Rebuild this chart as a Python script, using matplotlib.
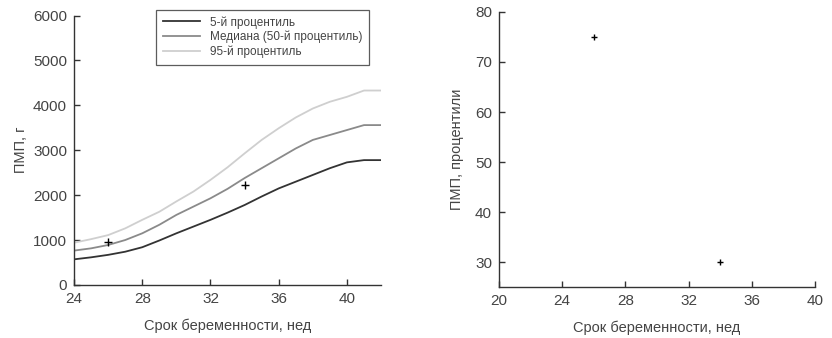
import matplotlib
matplotlib.use("Agg")
import matplotlib.pyplot as plt

plt.rcParams['font.family'] = ['Liberation Sans', 'DejaVu Sans']

weeks = [24, 25, 26, 27, 28, 29, 30, 31, 32, 33, 34, 35, 36, 37, 38, 39, 40, 41, 42]
p5 = [570, 615, 670, 740, 840, 990, 1150, 1300, 1450, 1610, 1780, 1970, 2150, 2300,
      2450, 2600, 2730, 2780, 2780]
p50 = [765, 815, 890, 1000, 1150, 1340, 1560, 1745, 1930, 2140, 2380, 2600, 2820, 3040,
       3230, 3340, 3450, 3560, 3560]
p95 = [940, 1020, 1110, 1260, 1450, 1630, 1860, 2080, 2340, 2620, 2930, 3230, 3490, 3730,
       3930, 4080, 4190, 4330, 4330]
obs_weeks = [26, 34]
obs_weight = [960, 2220]
obs_pct = [75, 30]

labels = ['5-й процентиль', 'Медиана (50-й процентиль)', '95-й процентиль']
colors = ['#333333', '#8a8a8a', '#cfcfcf']
txt = '#444444'

fig = plt.figure(figsize=(8.32, 3.38), dpi=100)
ax1 = fig.add_axes([0.089, 0.157, 0.369, 0.797])
ax2 = fig.add_axes([0.5998, 0.150, 0.3798, 0.815])

for vals, lab, c in zip([p5, p50, p95], labels, colors):
    ax1.plot(weeks, vals, color=c, lw=1.3, label=lab)
ax1.plot(obs_weeks, obs_weight, '+', color='black', ms=6, mew=1.0)
ax1.set_xlim(24, 42)
ax1.set_ylim(0, 6000)
ax1.set_xticks([24, 28, 32, 36, 40])
ax1.set_yticks(range(0, 6001, 1000))
ax1.set_xlabel('Срок беременности, нед', fontsize=10.5, color=txt, labelpad=9)
ax1.set_ylabel('ПМП, г', fontsize=10.5, color=txt, labelpad=4)
leg = ax1.legend(loc='upper center', bbox_to_anchor=(0.614, 1.022), fontsize=8.5,
                 frameon=True, fancybox=False, edgecolor='#333333',
                 handlelength=3.2, borderpad=0.55, labelspacing=0.2,
                 borderaxespad=0)
leg.get_frame().set_linewidth(0.9)
for t in leg.get_texts():
    t.set_color(txt)

ax2.plot(obs_weeks, obs_pct, '+', color='black', ms=5, mew=1.0)
ax2.set_xlim(20, 40)
ax2.set_ylim(25, 80)
ax2.set_xticks([20, 24, 28, 32, 36, 40])
ax2.set_yticks([30, 40, 50, 60, 70, 80])
ax2.set_xlabel('Срок беременности, нед', fontsize=10.5, color=txt, labelpad=9)
ax2.set_ylabel('ПМП, процентили', fontsize=10.5, color=txt, labelpad=8)

for ax in (ax1, ax2):
    ax.spines['top'].set_visible(False)
    ax.spines['right'].set_visible(False)
    for s in ('left', 'bottom'):
        ax.spines[s].set_color('#333333')
        ax.spines[s].set_linewidth(1.0)
    ax.tick_params(direction='in', length=4, width=1, color='#333333',
                   labelsize=11, labelcolor=txt, pad=5)

fig.savefig('out.png', dpi=100)
